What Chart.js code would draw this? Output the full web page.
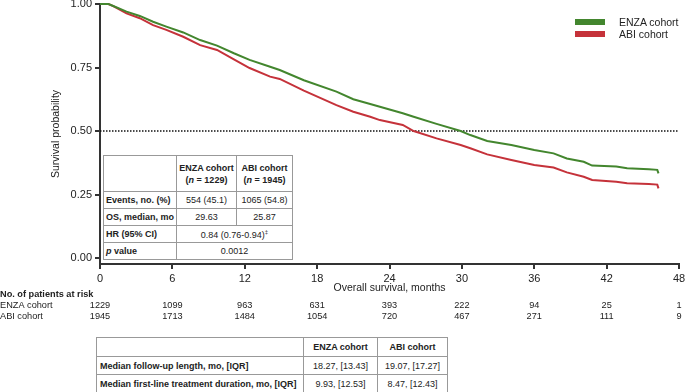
<!DOCTYPE html>
<html lang="en">
<head>
<meta charset="UTF-8">
<title>Overall survival: ENZA vs ABI cohort</title>
<script src="https://cdn.jsdelivr.net/npm/chart.js"></script>
<style>
  body { margin: 0; background: #fff; font-family: 'Liberation Sans', Arial, sans-serif; color: #222; }
  #wrap { position: relative; width: 685px; height: 392px; overflow: hidden; }
  #km { position: absolute; left: 0; top: 0; }
  .leg { position: absolute; left: 575px; height: 12px; font-size: 10.5px; line-height: 12px; }
  .leg i { position: absolute; left: 0; top: 3px; width: 30px; height: 6px; }
  .leg span { position: absolute; left: 44px; top: 0; white-space: nowrap; }
  table { position: absolute; border-collapse: collapse; background: #fff; table-layout: fixed; }
  td, th { border: 1px solid #999; padding: 0 2px; white-space: nowrap; }
  #stats { left: 103px; top: 155px; width: 189px; font-size: 9px; }
  #stats th { height: 35px; text-align: center; font-weight: bold; line-height: 12px; }
  #stats td { height: 16px; text-align: center; }
  #stats td.lab { text-align: left; font-weight: bold; padding-left: 2px; }
  #follow { left: 96px; top: 337px; width: 351px; font-size: 9px; }
  #follow th { height: 18px; text-align: center; }
  #follow td { height: 17px; text-align: center; }
  #follow td.lab { text-align: left; font-weight: bold; padding-left: 3px; }
</style>
</head>
<body>
<div id="wrap">
  <canvas id="km" width="685" height="325"></canvas>

  <div class="leg" style="top:16px"><i style="background:#43862e"></i><span>ENZA cohort</span></div>
  <div class="leg" style="top:28px"><i style="background:#c5323a"></i><span>ABI cohort</span></div>

  <table id="stats">
    <colgroup><col style="width:73px"><col style="width:60px"><col style="width:56px"></colgroup>
    <tr><th></th><th>ENZA cohort<br>(<i>n</i> = 1229)</th><th>ABI cohort<br>(<i>n</i> = 1945)</th></tr>
    <tr><td class="lab">Events, no. (%)</td><td>554 (45.1)</td><td>1065 (54.8)</td></tr>
    <tr><td class="lab">OS, median, mo</td><td>29.63</td><td>25.87</td></tr>
    <tr><td class="lab">HR (95% CI)</td><td colspan="2">0.84 (0.76-0.94)<sup style="font-size:6px">‡</sup></td></tr>
    <tr><td class="lab"><i>p</i> value</td><td colspan="2">0.0012</td></tr>
  </table>

  <table id="follow">
    <colgroup><col style="width:207px"><col style="width:74px"><col style="width:70px"></colgroup>
    <tr><th></th><th>ENZA cohort</th><th>ABI cohort</th></tr>
    <tr><td class="lab">Median follow-up length, mo, [IQR]</td><td>18.27, [13.43]</td><td>19.07, [17.27]</td></tr>
    <tr><td class="lab">Median first-line treatment duration, mo, [IQR]</td><td>9.93, [12.53]</td><td>8.47, [12.43]</td></tr>
  </table>
</div>

<script>
  // Kaplan-Meier curves (months, survival probability)
  const enzaTime = [0, 0.7, 1.1, 2.2, 3.3, 4.4, 5.5, 6.9, 8.3, 9.7, 11.1, 12.4, 14.1, 14.9, 16.9, 19.6, 21.0, 22.4, 25.1, 26.0, 27.9, 29.9, 30.7, 32.1, 34.1, 36.0, 37.6, 38.7, 40.1, 40.8, 42.8, 43.7, 45.5, 46.2, 46.3];
  const enzaSurv = [1.0, 1.0, 0.992, 0.970, 0.953, 0.930, 0.911, 0.888, 0.858, 0.836, 0.806, 0.780, 0.753, 0.740, 0.700, 0.655, 0.625, 0.606, 0.570, 0.556, 0.528, 0.500, 0.484, 0.461, 0.445, 0.425, 0.412, 0.392, 0.379, 0.364, 0.360, 0.353, 0.349, 0.347, 0.333];
  const abiTime = [0, 0.7, 1.1, 2.2, 3.3, 4.4, 5.5, 6.9, 8.3, 9.7, 11.1, 12.4, 14.1, 14.9, 16.9, 19.6, 21.0, 22.4, 23.2, 25.1, 26.0, 27.9, 29.9, 30.7, 32.1, 34.1, 36.0, 37.6, 38.7, 40.1, 40.8, 42.8, 43.7, 45.5, 46.2, 46.3];
  const abiSurv = [1.0, 1.0, 0.992, 0.963, 0.944, 0.917, 0.898, 0.871, 0.838, 0.819, 0.782, 0.748, 0.714, 0.705, 0.659, 0.602, 0.576, 0.556, 0.543, 0.524, 0.500, 0.471, 0.445, 0.432, 0.408, 0.386, 0.366, 0.356, 0.337, 0.320, 0.307, 0.300, 0.294, 0.291, 0.289, 0.274];

  const medianTime = [0, 48];
  const medianLevel = [0.5, 0.5];

  const yTicks = [0, 0.25, 0.5, 0.75, 1];

  // number at risk
  const riskTimes = [0, 6, 12, 18, 24, 30, 36, 42, 48];
  const enzaAtRisk = [1229, 1099, 963, 631, 393, 222, 94, 25, 1];
  const abiAtRisk = [1945, 1713, 1484, 1054, 720, 467, 271, 111, 9];
  const riskLabels = ['ENZA cohort', 'ABI cohort'];

  const toPoints = (xs, ys) => xs.map((x, i) => ({ x: x, y: ys[i] }));

  Chart.defaults.font.family = "'Liberation Sans', Arial, sans-serif";
  Chart.defaults.color = '#222';

  const riskTable = {
    id: 'riskTable',
    afterDraw(chart) {
      const ctx = chart.ctx;
      const xs = chart.scales.x;
      ctx.save();
      ctx.fillStyle = '#222';
      ctx.textBaseline = 'middle';
      ctx.textAlign = 'left';
      ctx.font = "bold 9.2px 'Liberation Sans', Arial";
      ctx.fillText('No. of patients at risk', 0, 294);
      ctx.font = "9.2px 'Liberation Sans', Arial";
      [enzaAtRisk, abiAtRisk].forEach((counts, r) => {
        const y = 305 + r * 11.5;
        ctx.textAlign = 'left';
        ctx.fillText(riskLabels[r], 0, y);
        ctx.textAlign = 'center';
        counts.forEach((n, i) => ctx.fillText(String(n), xs.getPixelForValue(riskTimes[i]), y));
      });
      ctx.restore();
    }
  };

  new Chart(document.getElementById('km'), {
    type: 'line',
    data: {
      datasets: [
        { label: 'ENZA cohort', data: toPoints(enzaTime, enzaSurv), borderColor: '#43862e', borderWidth: 2, pointRadius: 0, clip: 4 },
        { label: 'ABI cohort', data: toPoints(abiTime, abiSurv), borderColor: '#c5323a', borderWidth: 2, pointRadius: 0, clip: 4 },
        { label: 'median', data: toPoints(medianTime, medianLevel), borderColor: '#111', borderWidth: 1.3, borderDash: [1.5, 1.5], pointRadius: 0 }
      ]
    },
    options: {
      responsive: false,
      animation: false,
      layout: { padding: { top: 4, right: 6, bottom: 25, left: 0 } },
      plugins: { legend: { display: false }, tooltip: { enabled: false } },
      scales: {
        x: {
          type: 'linear', min: 0, max: 48,
          ticks: { stepSize: 6, font: { size: 11 }, color: '#222', maxRotation: 0 },
          grid: { drawOnChartArea: false, drawTicks: true, tickLength: 5, color: '#333', lineWidth: 2 },
          border: { color: '#333', width: 2 },
          title: { display: true, text: 'Overall survival, months', font: { size: 10.5 }, color: '#222', padding: { top: 0, bottom: 6 } },
          afterFit(s) { s.height = 36; s.paddingLeft = 0; s.paddingRight = 0; }
        },
        y: {
          type: 'linear', min: -0.0236, max: 1,
          afterBuildTicks(s) { s.ticks = yTicks.map(v => ({ value: v })); },
          ticks: { font: { size: 11 }, color: '#222', callback: v => Number(v).toFixed(2) },
          grid: { drawOnChartArea: false, drawTicks: true, tickLength: 5, color: '#333', lineWidth: 2 },
          border: { color: '#333', width: 2 },
          title: { display: true, text: 'Survival probability', font: { size: 10.5 }, color: '#222', padding: { top: 50, bottom: 0 } },
          afterFit(s) { s.width = 100; s.paddingTop = 0; s.paddingBottom = 0; }
        }
      }
    },
    plugins: [riskTable]
  });
</script>
</body>
</html>
